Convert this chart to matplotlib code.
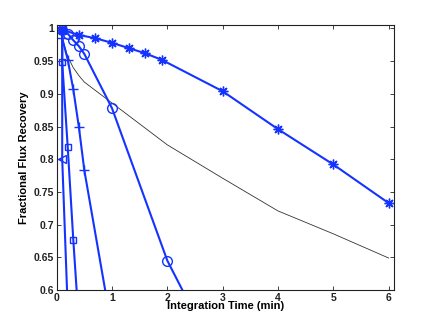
import matplotlib
matplotlib.use("Agg")
import matplotlib.pyplot as plt

# integration time (min) and fractional flux recovery
t_circle = [0.1, 0.2, 0.3, 0.4, 0.5, 1.0, 2.0, 3.0]
f_circle = [0.998, 0.992, 0.982, 0.973, 0.961, 0.878, 0.645, 0.48]

t_star = [0.1, 0.4, 0.7, 1.0, 1.3, 1.6, 1.9, 3.0, 4.0, 5.0, 6.0]
f_star = [0.998, 0.99, 0.985, 0.978, 0.97, 0.962, 0.952, 0.904, 0.846, 0.792, 0.733]

t_plus = [0.1, 0.1, 0.2, 0.3, 0.4, 0.5, 1.0]
f_plus = [0.998, 0.985, 0.952, 0.907, 0.85, 0.783, 0.54]

t_square = [0.1, 0.1, 0.2, 0.3, 0.4]
f_square = [0.998, 0.948, 0.818, 0.677, 0.55]

t_tri = [0.1, 0.1, 0.2]
f_tri = [0.998, 0.8, 0.57]

t_ref = [0.1, 0.2, 0.3, 0.4, 0.5, 1.0, 2.0, 3.0, 4.0, 5.0, 6.0]
f_ref = [0.985, 0.957, 0.94, 0.928, 0.918, 0.886, 0.822, 0.771, 0.721, 0.686, 0.649]

x_ticks = [0, 1, 2, 3, 4, 5, 6]
y_ticks = [0.6, 0.65, 0.7, 0.75, 0.8, 0.85, 0.9, 0.95, 1.0]

plt.rcParams["font.family"] = ["Liberation Sans", "DejaVu Sans"]
plt.rcParams["font.weight"] = "bold"

fig = plt.figure(figsize=(4.36, 3.27), dpi=100)
ax = fig.add_axes([0.130, 0.113, 0.774, 0.811])

blue = "#1433ff"
style = dict(color=blue, lw=1.5, mfc="none", mec=blue, mew=1.0)
ax.plot(t_ref, f_ref, color="#333333", lw=0.6)
ax.plot(t_star, f_star, marker=(8, 2, 0), ms=7, **style)
ax.plot(t_circle, f_circle, marker="o", ms=7, **style)
ax.plot(t_plus, f_plus, marker="+", ms=7, **style)
ax.plot(t_square, f_square, marker="s", ms=5, **style)
ax.plot(t_tri, f_tri, marker="<", ms=6, **style)

ax.set_xlim(0, 6.1)
ax.set_ylim(0.6, 1.0055)
ax.set_xticks(x_ticks)
ax.set_yticks(y_ticks)
ax.set_yticklabels(["%g" % v for v in y_ticks])
ax.tick_params(direction="in", length=3, width=0.6, top=True, right=True,
               labelsize=7.5, pad=2, colors="#222222")
for s in ax.spines.values():
    s.set_linewidth(0.8)
    s.set_color("#222222")

ax.set_xlabel("Integration Time (min)", fontsize=8, fontweight="bold", labelpad=-1)
ax.set_ylabel("Fractional Flux Recovery", fontsize=8, fontweight="bold", labelpad=3)

fig.savefig("out.png", dpi=100)
